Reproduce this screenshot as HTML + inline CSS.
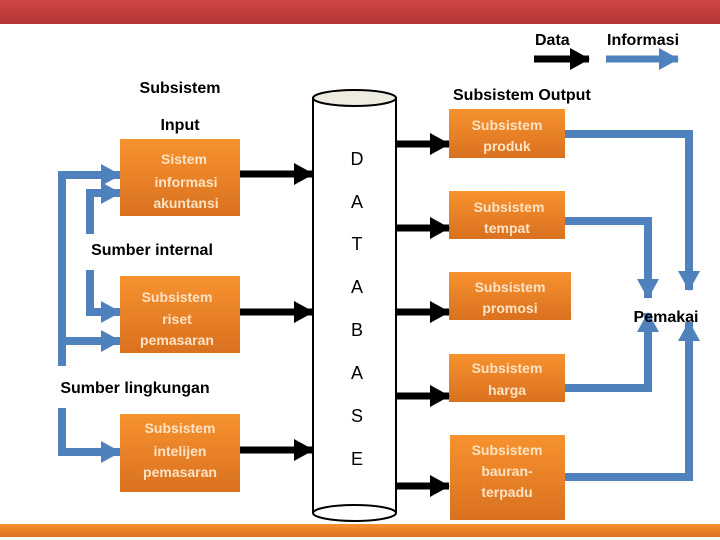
<!DOCTYPE html>
<html><head><meta charset="utf-8"><style>
html,body{margin:0;padding:0;background:#fff;}
svg{display:block;}
.t{font-family:"Liberation Sans",sans-serif;font-size:16px;fill:#000;font-weight:bold;}
.b{font-family:"Liberation Sans",sans-serif;font-size:14px;fill:#fde3c4;text-anchor:middle;font-weight:bold;}
.L{font-family:"Liberation Sans",sans-serif;font-size:18px;fill:#000;text-anchor:middle;}
</style></head><body>
<svg width="720" height="540" viewBox="0 0 720 540" xmlns="http://www.w3.org/2000/svg">
<defs>
<linearGradient id="red" x1="0" y1="0" x2="0" y2="1"><stop offset="0" stop-color="#d24545"/><stop offset="1" stop-color="#b23434"/></linearGradient>
<linearGradient id="org" x1="0" y1="0" x2="0" y2="1"><stop offset="0" stop-color="#f7922f"/><stop offset="1" stop-color="#d9711f"/></linearGradient>
<marker id="bk" markerUnits="userSpaceOnUse" markerWidth="20" markerHeight="22" refX="19" refY="11" orient="auto"><path d="M0,0 L20,11 L0,22 Z" fill="#000"/></marker>
<marker id="bl" markerUnits="userSpaceOnUse" markerWidth="20" markerHeight="22" refX="19" refY="11" orient="auto"><path d="M0,0 L20,11 L0,22 Z" fill="#4f81bd"/></marker>
</defs>
<rect x="0" y="0" width="720" height="24" fill="url(#red)"/>
<rect x="0" y="524" width="720" height="13" fill="url(#org)"/>

<!-- legend -->
<text x="535" y="45" class="t">Data</text>
<text x="607" y="45" class="t">Informasi</text>
<line x1="534" y1="59" x2="589" y2="59" stroke="#000" stroke-width="7" marker-end="url(#bk)"/>
<line x1="606" y1="59" x2="678" y2="59" stroke="#4f81bd" stroke-width="7" marker-end="url(#bl)"/>

<text x="180" y="93" class="t" text-anchor="middle">Subsistem</text>
<text x="180" y="130" class="t" text-anchor="middle">Input</text>
<text x="453" y="100" class="t">Subsistem Output</text>
<text x="152" y="255" class="t" text-anchor="middle">Sumber internal</text>
<text x="135" y="393" class="t" text-anchor="middle">Sumber lingkungan</text>

<!-- cylinder -->
<rect x="313" y="98" width="83" height="415" fill="#fff"/>
<line x1="313" y1="98" x2="313" y2="513" stroke="#000" stroke-width="2"/>
<line x1="396" y1="98" x2="396" y2="513" stroke="#000" stroke-width="2"/>
<ellipse cx="354.5" cy="98" rx="41.5" ry="8" fill="#eeece1" stroke="#000" stroke-width="2"/>
<ellipse cx="354.5" cy="513" rx="41.5" ry="8" fill="#fff" stroke="#000" stroke-width="2"/>
<text x="357" y="165" class="L">D</text>
<text x="357" y="208" class="L">A</text>
<text x="357" y="250" class="L">T</text>
<text x="357" y="293" class="L">A</text>
<text x="357" y="336" class="L">B</text>
<text x="357" y="379" class="L">A</text>
<text x="357" y="422" class="L">S</text>
<text x="357" y="465" class="L">E</text>

<!-- left boxes -->
<rect x="120" y="139" width="120" height="77" fill="url(#org)"/>
<text class="b" x="184" y="164">Sistem</text><text class="b" x="186" y="187">informasi</text><text class="b" x="186" y="208">akuntansi</text>
<rect x="120" y="276" width="120" height="77" fill="url(#org)"/>
<text class="b" x="177" y="302">Subsistem</text><text class="b" x="177" y="324">riset</text><text class="b" x="177" y="345">pemasaran</text>
<rect x="120" y="414" width="120" height="78" fill="url(#org)"/>
<text class="b" x="180" y="433">Subsistem</text><text class="b" x="180" y="456">intelijen</text><text class="b" x="180" y="477">pemasaran</text>

<!-- right boxes -->
<rect x="449" y="109" width="116" height="49" fill="url(#org)"/>
<text class="b" x="507" y="130">Subsistem</text><text class="b" x="507" y="151">produk</text>
<rect x="449" y="191" width="116" height="48" fill="url(#org)"/>
<text class="b" x="509" y="212">Subsistem</text><text class="b" x="507" y="233">tempat</text>
<rect x="449" y="272" width="122" height="48" fill="url(#org)"/>
<text class="b" x="510" y="292">Subsistem</text><text class="b" x="510" y="313">promosi</text>
<rect x="449" y="354" width="116" height="48" fill="url(#org)"/>
<text class="b" x="507" y="373">Subsistem</text><text class="b" x="507" y="395">harga</text>
<rect x="450" y="435" width="115" height="85" fill="url(#org)"/>
<text class="b" x="507" y="455">Subsistem</text><text class="b" x="507" y="476">bauran-</text><text class="b" x="507" y="497">terpadu</text>

<!-- black arrows -->
<g stroke="#000" stroke-width="7" marker-end="url(#bk)" fill="none">
<line x1="240" y1="174" x2="313" y2="174"/>
<line x1="240" y1="312" x2="313" y2="312"/>
<line x1="240" y1="450" x2="313" y2="450"/>
<line x1="396" y1="144" x2="449" y2="144"/>
<line x1="396" y1="228" x2="449" y2="228"/>
<line x1="396" y1="312" x2="449" y2="312"/>
<line x1="396" y1="396" x2="449" y2="396"/>
<line x1="396" y1="486" x2="449" y2="486"/>
</g>

<!-- blue lines -->
<g stroke="#4f81bd" stroke-width="8" fill="none" marker-end="url(#bl)">
<polyline points="62,366 62,175 120,175"/>
<polyline points="62,341 120,341"/>
<polyline points="90,234 90,193 120,193"/>
<polyline points="90,270 90,312 120,312"/>
<polyline points="62,408 62,452 120,452"/>
<polyline points="565,134 689,134 689,290"/>
<polyline points="565,221 648,221 648,298"/>
<polyline points="565,388 648,388 648,313"/>
<polyline points="565,477 689,477 689,322"/>
</g>
<text x="666" y="322" class="t" text-anchor="middle">Pemakai</text>
</svg>
</body></html>
